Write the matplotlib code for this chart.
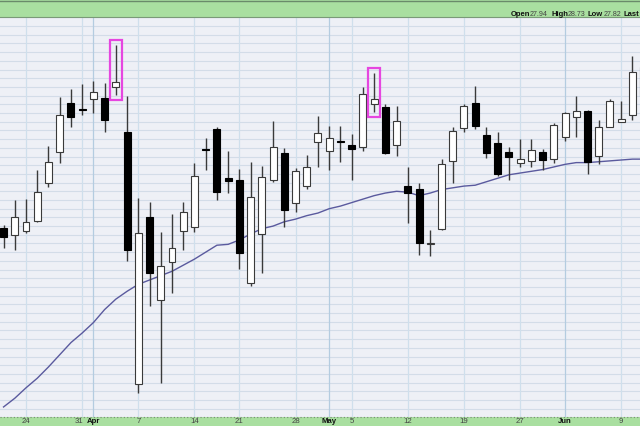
import numpy as np
import matplotlib.pyplot as plt
from matplotlib.patches import Rectangle

plt.rcParams['font.family'] = ['Liberation Sans', 'DejaVu Sans']

# Daily candles, first one is Mar 20 (index -2), Mar 24 is index 0
opens = [26.68, 26.60, 26.64, 26.76, 27.20, 27.55, 28.12, 28.04, 28.16, 28.17,
         28.30, 27.78, 24.88, 26.80, 25.85, 26.29, 26.64, 26.69, 27.58, 27.82,
         27.25, 27.23, 26.05, 26.61, 27.23, 27.54, 26.97, 27.16, 27.67, 27.56,
         27.68, 27.63, 27.61, 28.10, 28.07, 27.63, 27.16, 27.13, 26.49, 26.67,
         27.45, 27.83, 28.12, 27.75, 27.66, 27.55, 27.43, 27.45, 27.55, 27.47,
         27.72, 27.95, 28.02, 27.51, 27.84, 27.90, 27.98, 28.20]
highs = [26.71, 27.00, 27.01, 27.35, 27.62, 28.18, 28.28, 28.33, 28.37, 28.35,
         28.78, 28.20, 27.02, 26.98, 26.63, 26.84, 26.98, 27.43, 27.71, 27.84,
         27.56, 27.36, 27.44, 27.39, 27.91, 27.60, 27.37, 27.52, 27.97, 27.85,
         27.85, 27.76, 28.30, 28.46, 28.10, 28.08, 27.38, 27.20, 26.66, 27.47,
         27.84, 28.10, 28.31, 27.84, 27.78, 27.61, 27.70, 27.70, 27.59, 27.89,
         28.01, 28.20, 28.04, 27.92, 28.16, 28.14, 28.66, 28.60]
lows = [26.45, 26.43, 26.62, 26.75, 27.15, 27.43, 27.84, 27.98, 28.00, 27.78,
        28.21, 26.30, 24.78, 25.78, 24.90, 25.93, 26.43, 26.63, 27.35, 27.00,
        27.08, 26.21, 26.01, 26.16, 27.21, 26.69, 26.86, 27.13, 27.38, 27.35,
        27.44, 27.23, 27.56, 28.01, 27.53, 27.51, 26.74, 26.37, 26.36, 26.66,
        27.20, 27.78, 27.82, 27.48, 27.28, 27.23, 27.38, 27.38, 27.35, 27.43,
        27.68, 27.72, 27.30, 27.41, 27.84, 27.90, 27.92, 28.10]
closes = [26.57, 26.80, 26.75, 27.09, 27.44, 27.98, 27.95, 28.03, 28.24, 27.92,
          28.36, 26.43, 26.62, 26.16, 26.24, 26.45, 26.86, 27.28, 27.57, 27.09,
          27.22, 26.39, 27.03, 27.26, 27.61, 26.89, 27.33, 27.38, 27.77, 27.71,
          27.67, 27.59, 28.22, 28.16, 27.54, 27.91, 27.08, 26.51, 26.50, 27.41,
          27.79, 28.08, 27.85, 27.54, 27.30, 27.49, 27.47, 27.58, 27.46, 27.86,
          28.00, 28.02, 27.44, 27.84, 28.14, 27.93, 28.47, 28.53]
# moving average, read at each candle
ma = [24.62, 24.72, 24.84, 24.95, 25.08, 25.22, 25.36, 25.47, 25.59, 25.74,
      25.86, 25.95, 26.03, 26.08, 26.13, 26.18, 26.25, 26.32, 26.40, 26.48,
      26.49, 26.54, 26.61, 26.67, 26.70, 26.75, 26.78, 26.82, 26.85, 26.90,
      26.93, 26.97, 27.01, 27.05, 27.08, 27.10, 27.09, 27.05, 27.08, 27.12,
      27.14, 27.16, 27.17, 27.21, 27.25, 27.29, 27.31, 27.33, 27.35, 27.38,
      27.41, 27.43, 27.43, 27.44, 27.45, 27.46, 27.47, 27.47]

tick_idx = [0, 5, 6, 10, 15, 19, 24, 27, 29, 34, 39, 44, 48, 53]
tick_lab = ["24", "31", "Apr", "7", "14", "21", "28", "May", "5", "12", "19", "27", "Jun", "9"]
month_lab = ["Apr", "May", "Jun"]
marked = [8, 31]  # candles boxed in magenta

BG = "#eef0f6"
GREEN = "#a9dfa0"

x = np.arange(len(opens)) - 2
o = np.array(opens); h = np.array(highs); l = np.array(lows); c = np.array(closes)
up = c >= o

fig = plt.figure(figsize=(6.4, 4.26), dpi=100)
fig.patch.set_facecolor(BG)
ax = fig.add_axes([0, 9 / 426, 1, 400 / 426])
ax.set_facecolor(BG)

# grid
for yv in np.arange(24.5, 29.2, 0.1):
    ax.axhline(yv, color="#d3dce8", lw=0.8, zorder=0)
for t, lab in zip(tick_idx, tick_lab):
    col = "#b4cce0" if lab in month_lab else "#cfdfec"
    ax.axvline(t, color=col, lw=0.9, zorder=0)

ax.plot(x, ma, color="#5a5a9e", lw=1.0, zorder=2)

ax.vlines(x, l, h, color="#3a3a3a", lw=1.0, zorder=3)
bottom = np.minimum(o, c)
height = np.maximum(np.abs(c - o), 0.012)
ax.bar(x[up], height[up], bottom=bottom[up], width=0.62, color="white",
       edgecolor="#3a3a3a", lw=0.8, zorder=4)
ax.bar(x[~up], height[~up], bottom=bottom[~up], width=0.62, color="black",
       edgecolor="black", lw=0.8, zorder=4)

for i in marked:
    j = i + 2
    ax.add_patch(Rectangle((i - 0.55, l[j] - 0.06), 1.1, h[j] - l[j] + 0.12,
                           fill=False, edgecolor="#e646e0", lw=1.6, zorder=5))

ax.set_xlim(-26 / 11.23, 614 / 11.23)
ax.set_ylim(24.5045, 29.1045)
ax.set_xticks([]); ax.set_yticks([])
for s in ax.spines.values():
    s.set_visible(False)

# header and footer bands
fig.patches.append(Rectangle((0, 409 / 426), 1, 17 / 426, transform=fig.transFigure,
                             facecolor=GREEN, edgecolor="none", zorder=-1))
fig.patches.append(Rectangle((0, 0), 1, 9 / 426, transform=fig.transFigure,
                             facecolor=GREEN, edgecolor="none", zorder=-1))
fig.add_artist(plt.Line2D([0, 1], [409 / 426, 409 / 426], color="#7a9a78", lw=0.8))
fig.add_artist(plt.Line2D([0, 1], [9 / 426, 9 / 426], color="#7a8a78", lw=0.8, ls=(0, (1, 2))))
fig.add_artist(plt.Line2D([0, 1], [1 - 0.5 / 426, 1 - 0.5 / 426], color="#6a8a6a", lw=1))

hdr = [("Open", 511, True), ("27.94", 530, False), ("High", 552, True), ("28.73", 568, False),
       ("Low", 588, True), ("27.82", 604, False), ("Last", 623, True)]
for txt, px, bold in hdr:
    fig.text(px / 640, 1 - 14 / 426, txt, fontsize=5.5 if bold else 5.1,
             fontweight="bold" if bold else "normal",
             color="#111111" if bold else "#444444", va="center", ha="left", zorder=5)

for t, lab in zip(tick_idx, tick_lab):
    xp = t - 0.25 if lab == "31" else t
    bold = lab in month_lab
    ax.text(xp, -0.011, lab, transform=ax.get_xaxis_transform(), ha="center", va="center",
            fontsize=5.6, fontweight="bold" if bold else "normal",
            color="#111111" if bold else "#444444", clip_on=False, zorder=10)

fig.savefig("out.png", dpi=100, facecolor=BG)
